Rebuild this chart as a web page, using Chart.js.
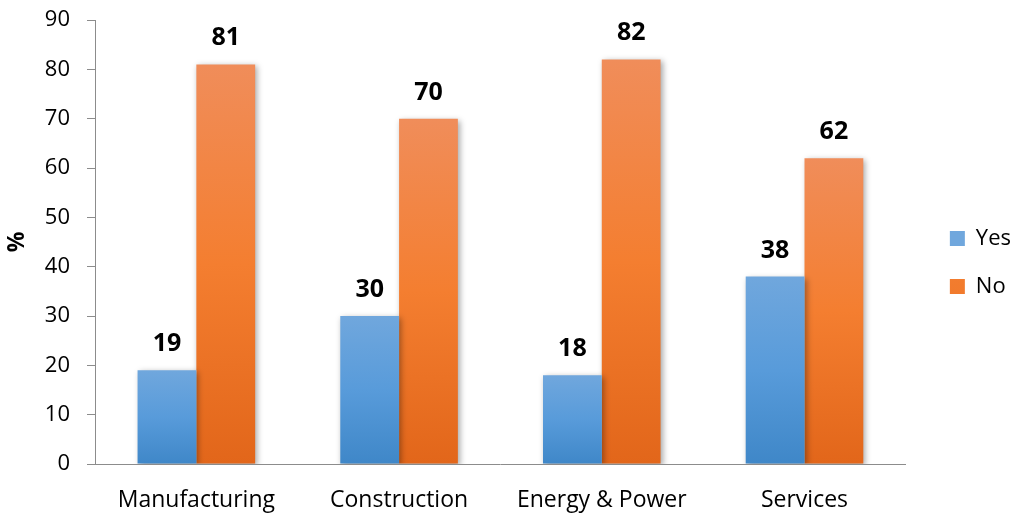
<!DOCTYPE html>
<html>
<head>
<meta charset="utf-8">
<script src="https://cdn.jsdelivr.net/npm/chart.js@4.4.1/dist/chart.umd.min.js"></script>
<style>
html,body{margin:0;padding:0;background:#fff;}
#wrap{width:1011px;height:515px;position:relative;}
</style>
</head>
<body>
<div id="wrap"><canvas id="c" width="1011" height="515"></canvas></div>
<script>
const categories = ["Manufacturing", "Construction", "Energy & Power", "Services"];
const yesValues = [19, 30, 18, 38];
const noValues = [81, 70, 82, 62];
const seriesNames = ["Yes", "No"];
const yTitle = "%";

const FONT = "'Open Sans', 'Liberation Sans', sans-serif";

function gradFill(stops, solid) {
  return function(ctx) {
    const chart = ctx.chart;
    if (ctx.type !== 'data' || !chart.chartArea || !chart.scales.y) return solid;
    const y = chart.scales.y;
    const top = y.getPixelForValue(ctx.parsed.y);
    const bot = y.getPixelForValue(0);
    if (!isFinite(top) || !isFinite(bot) || top === bot) return solid;
    const g = chart.ctx.createLinearGradient(0, top, 0, bot);
    stops.forEach(s => g.addColorStop(s[0], s[1]));
    return g;
  };
}

const blueFill = gradFill([[0, '#70a7dd'], [0.5, '#589bda'], [1, '#3f87c8']], '#5a9bd8');
const orangeFill = gradFill([[0, '#f08d5a'], [0.5, '#f47e30'], [1, '#e2661a']], '#f07c33');

const effects = {
  id: 'effects',
  afterLayout(chart) {
    const lg = chart.legend;
    if (lg) { lg.left += 18; lg.right += 18; lg.top -= 5; lg.bottom -= 5; }
  },
  beforeDatasetsDraw(chart) {
    const c = chart.ctx;
    c.save();
    c.shadowColor = 'rgba(0,0,0,0.35)';
    c.shadowBlur = 6;
    c.shadowOffsetX = 2;
    c.shadowOffsetY = 2;
  },
  afterDatasetsDraw(chart) {
    const c = chart.ctx;
    c.restore();
    c.save();
    c.font = "bold 25px " + FONT;
    c.fillStyle = '#000';
    c.textAlign = 'center';
    c.textBaseline = 'alphabetic';
    chart.data.datasets.forEach((ds, i) => {
      const meta = chart.getDatasetMeta(i);
      meta.data.forEach((bar, j) => {
        c.fillText(String(ds.data[j]), bar.x, bar.y - 19);
      });
    });
    c.restore();
  }
};

new Chart(document.getElementById('c'), {
  type: 'bar',
  data: {
    labels: categories,
    datasets: [
      { label: seriesNames[0], data: yesValues, backgroundColor: blueFill, borderWidth: 0 },
      { label: seriesNames[1], data: noValues, backgroundColor: orangeFill, borderWidth: 0 }
    ]
  },
  options: {
    responsive: false,
    animation: false,
    events: [],
    datasets: { bar: { categoryPercentage: 0.58, barPercentage: 1.0 } },
    layout: { padding: { top: 20, right: 8, left: 0, bottom: 0 } },
    plugins: {
      tooltip: { enabled: false },
      legend: {
        position: 'right',
        align: 'center',
        labels: {
          boxWidth: 15,
          boxHeight: 15,
          padding: 26,
          color: '#000',
          font: { family: FONT, size: 22 }
        }
      }
    },
    scales: {
      x: {
        grid: { display: false },
        border: { display: true, color: '#8c8c8c', width: 1 },
        ticks: { color: '#000', font: { family: FONT, size: 23 }, padding: 15, maxRotation: 0 },
        afterFit(s) { s.height = 51; }
      },
      y: {
        min: 0, max: 90,
        ticks: { stepSize: 10, color: '#000', font: { family: FONT, size: 22 }, padding: 17 },
        grid: { drawOnChartArea: false, drawTicks: true, tickLength: 8, color: '#8c8c8c' },
        border: { display: true, color: '#8c8c8c', width: 1 },
        title: { display: true, text: yTitle, color: '#000', font: { family: FONT, size: 23, weight: 'bold' }, padding: { top: 4, bottom: 0 } },
        afterFit(s) { s.width = 95; s.paddingTop = 0; s.paddingBottom = 0; }
      }
    }
  },
  plugins: [effects]
});
</script>
</body>
</html>
